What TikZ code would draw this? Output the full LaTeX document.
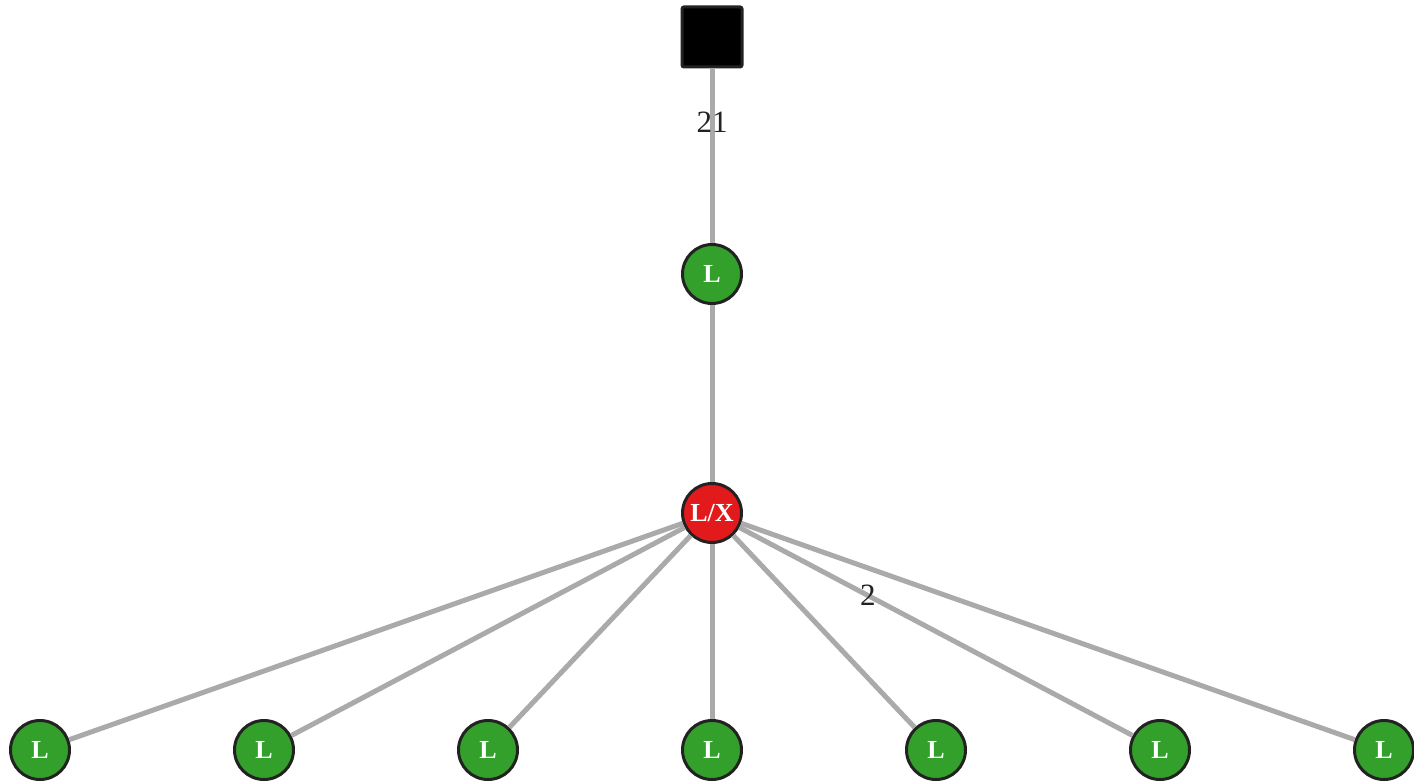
\documentclass[tikz,border=0pt]{standalone}
\usepackage{fontspec}
\setmainfont{Liberation Serif}
\usetikzlibrary{positioning}

\definecolor{leafgreen}{HTML}{33A02C}
\definecolor{nodered}{HTML}{E31A1C}
\definecolor{edgegray}{HTML}{AAAAAA}
\definecolor{rimgray}{HTML}{222222}

\tikzset{
  every vertex/.style={circle, draw=rimgray, line width=3pt, minimum size=59pt,
    inner sep=0pt, text=white, font=\fontsize{26}{26}\selectfont\bfseries},
  vertex green/.style={every vertex, fill=leafgreen},
  vertex red/.style={every vertex, fill=nodered},
  root box/.style={rectangle, draw=rimgray, line width=3pt, fill=black,
    minimum size=60pt, inner sep=0pt, rounded corners=2pt},
  link/.style={draw=edgegray, line width=5pt},
  weight/.style={text=rimgray, font=\fontsize{31}{31}\selectfont, inner sep=0pt}
}

\begin{document}
\begin{tikzpicture}[x=1pt, y=-1pt]%
\useasboundingbox (0,0) rectangle (1414,783);

\node [root box] (root) at (712,37) {};
\node [vertex green] (mid) at (712,274) {L};
\node [vertex red] (hub) at (712,513) {L/X};

\foreach \i in {1,...,7}
  \node [vertex green] (leaf-\i) at ({40+224*(\i-1)},750) {L};

\draw [link] (root) -- (mid)
  node [weight, pos=0.31] {21};
\draw [link] (mid) -- (hub);

\foreach \i in {1,...,5,7}
  \draw [link] (hub) -- (leaf-\i);

\draw [link] (hub) -- (leaf-6)
  node [weight, pos=0.327] {2};

\end{tikzpicture}
\end{document}
